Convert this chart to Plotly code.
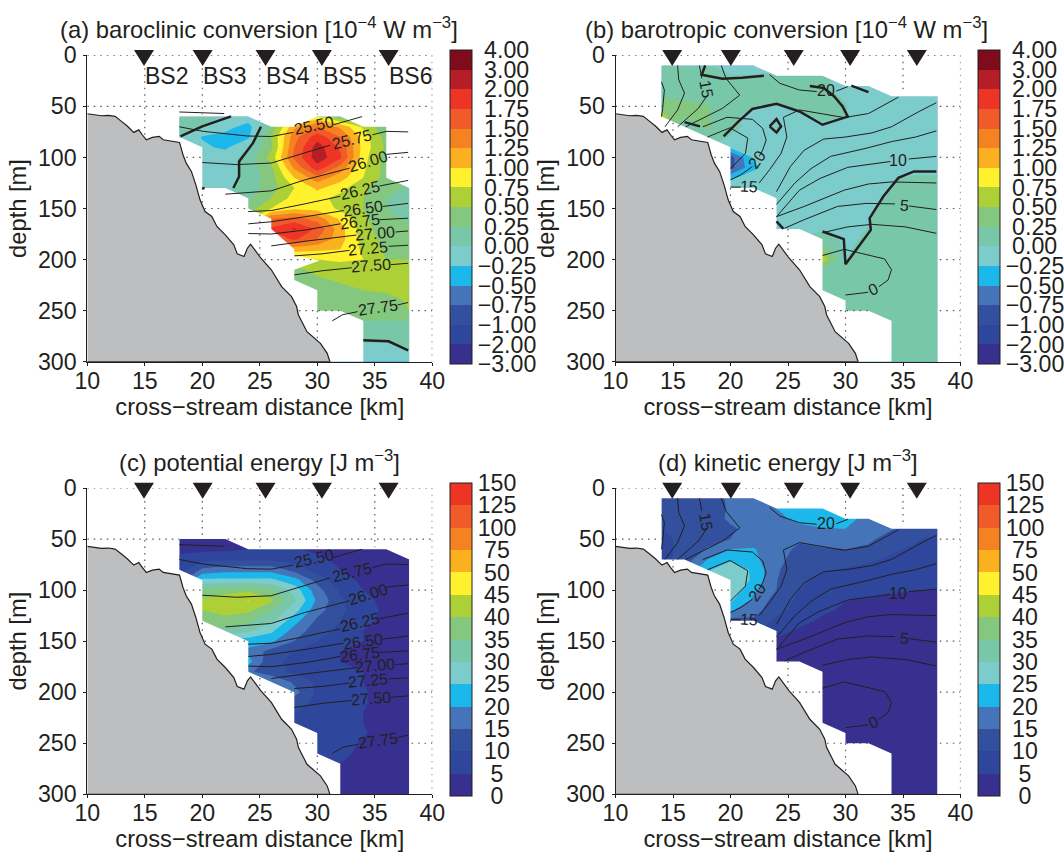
import numpy as np
import plotly.graph_objects as go

TXT = "#231f20"
FONT = "Liberation Sans, Arial, sans-serif"
NB = "\u00a0"

# ---------- colour levels
levels_conv = [-3, -2, -1, -.75, -.5, -.25, 0, .25, .5, .75, 1, 1.25, 1.5, 1.75, 2, 3, 4]
labels_conv = ["−3.00", "−2.00", "−1.00", "−0.75", "−0.50", "−0.25", NB+"0.00", NB+"0.25", NB+"0.50", NB+"0.75",
               NB+"1.00", NB+"1.25", NB+"1.50", NB+"1.75", NB+"2.00", NB+"3.00", NB+"4.00"]
colors_conv = ["#37308f", "#2e479c", "#33509f", "#4674b9", "#1cb8ec", "#7ccccb", "#78c7a8", "#84c77f",
               "#add036", "#fff12d", "#fbb01f", "#f58220", "#f15a29", "#ee3424", "#b51e24", "#7f0c1c"]
levels_en = [0, 5, 10, 15, 20, 25, 30, 35, 40, 45, 50, 75, 100, 125, 150]
labels_en = [NB+NB+"0", NB+NB+"5", NB+"10", NB+"15", NB+"20", NB+"25", NB+"30", NB+"35", NB+"40", NB+"45",
             NB+"50", NB+"75", "100", "125", "150"]
colors_en = ["#37308f", "#2e479c", "#33509f", "#4674b9", "#1cb8ec", "#7ccccb", "#78c7a8", "#84c77f",
             "#add036", "#fff12d", "#fbb01f", "#f58220", "#f15a29", "#ee3424"]

# ---------- grids
x_ac = [18, 20, 22, 24, 26, 28, 30, 32, 34, 36, 38]
x_bd = [14, 16, 18, 20, 22, 24, 26, 28, 30, 32, 34, 36, 38]
d_a = list(range(60, 301, 10))
d_c = list(range(50, 301, 10))
d_bd = list(range(10, 301, 10))

z_a = [
 [.1, .05, -.02, -.1, .1, .5, .8, .3, .3, .2, .2],
 [.05, 0, -.15, -.35, .3, 1.2, 1.5, 1.2, .7, .3, .3],
 [0, -.27, -.35, -.3, .5, 1.4, 1.9, 1.5, .9, .4, .35],
 [-.2, -.2, -.3, -.02, .45, 1.5, 2.5, 1.7, .9, .45, .3],
 [-.15, -.15, -.1, .08, .6, 1.55, 2.6, 1.8, .85, .4, .3],
 [-.15, -.15, -.1, .1, .45, 1.3, 1.9, 1.4, .8, .4, .3],
 [-.15, -.15, -.1, .08, .4, 1.0, 1.4, 1.1, .75, .4, .3],
 [-.1, -.1, -.05, .1, .4, .75, 1.05, .85, .55, .35, .2],
 [0, 0, 0, .2, .5, .85, .85, .65, .5, .25, .2],
 [.3, .3, .3, .35, .75, .95, .9, .7, .5, .25, .2],
 [.5, .5, .5, .6, 1.5, 1.6, 1.4, .95, .55, .3, .22],
 [.7, .7, .7, .8, 1.8, 2.1, 1.7, 1.1, .6, .35, .3],
 [.7, .7, .7, .8, 1.5, 1.8, 1.5, 1.1, .65, .4, .3],
 [.8, .8, .8, .9, 1.0, 1.1, 1.05, 1.0, .7, .45, .3],
 [.6, .6, .6, .6, .7, .7, .75, .8, .75, .5, .5],
 [.45, .45, .45, .45, .45, .45, .55, .6, .6, .55, .55],
 [.4, .4, .4, .4, .4, .4, .47, .52, .55, .55, .55],
 [.4, .4, .4, .4, .4, .4, .4, .45, .5, .52, .52],
 [.35, .35, .35, .35, .35, .35, .35, .4, .42, .45, .52],
 [.3, .3, .3, .3, .3, .3, .3, .3, .35, .4, .5],
 [.25, .25, .25, .25, .25, .25, .25, .25, .25, .25, .25],
 [.15, .15, .15, .15, .15, .15, .15, .15, .15, .15, .15],
 [0, 0, 0, 0, 0, 0, 0, 0, .01, .01, .05],
 [-.05, -.05, -.05, -.05, -.05, -.05, -.05, -.05, -.05, -.05, -.01],
 [-.1, -.1, -.1, -.1, -.1, -.1, -.1, -.1, -.1, -.1, -.1],
]

z_b = [
 [.27, .12, .03, -.1, -.1, -.1, -.1, -.1, -.1, -.1, -.1, -.1, -.1],
 [.2, .12, .08, .01, .01, .05, .05, .03, -.05, -.1, -.1, -.1, -.1],
 [.2, .15, .12, .1, .1, .1, .08, .01, -.02, -.1, -.1, -.1, -.1],
 [.22, .2, .15, .12, .1, .08, .08, .05, -.02, -.1, -.1, -.1, -.1],
 [.42, .32, .27, .12, .03, -.01, .01, .06, .01, -.1, -.1, -.1, -.1],
 [.58, .3, .28, .05, -.1, -.15, -.02, .02, 0, -.1, -.1, -.1, -.1],
 [.4, .02, .27, .1, -.1, .02, -.05, -.02, -.05, -.1, -.1, -.1, -.1],
 [.2, .1, .2, -.03, -.1, -.1, -.1, -.1, -.1, -.1, -.1, -.1, -.1],
 [.1, .05, 0, -.2, -.1, -.1, -.1, -.1, -.1, -.1, -.1, -.1, -.1],
 [-.3, -.4, -.6, -.85, -.22, -.1, -.1, -.1, -.1, -.1, -.1, -.1, -.1],
 [-.3, -.4, -.6, -.85, -.3, -.1, -.1, -.1, -.1, -.1, -.1, -.1, -.1],
 [-.1, -.2, -.3, -.3, -.12, -.1, -.1, -.1, -.1, -.1, -.02, .03, .03],
 [-.1, -.1, -.1, -.1, -.1, -.1, -.1, -.1, -.1, -.1, .005, .05, .05],
 [-.1, -.1, -.1, -.1, -.1, -.1, -.1, -.1, -.1, -.05, .03, .06, .06],
 [-.1, -.1, -.1, -.1, -.1, -.1, -.1, -.1, -.1, -.02, .05, .06, .06],
 [-.1, -.1, -.1, -.1, -.1, -.1, -.1, -.1, -.08, -.005, .06, .06, .06],
 [-.1, -.1, -.1, -.1, -.1, -.1, -.1, -.03, -.05, .005, .07, .07, .07],
 [.05, .05, .05, .05, .05, .05, .05, .08, -.04, .03, .08, .08, .08],
 [.35, .35, .35, .35, .35, .35, .35, .35, -.02, .05, .08, .08, .08],
 [.7, .7, .7, .7, .7, .7, .7, .7, -.005, .07, .08, .08, .08],
 [.15, .15, .15, .15, .15, .15, .15, .15, .05, .08, .08, .08, .08],
 [.1, .1, .1, .1, .1, .1, .1, .1, .1, .1, .1, .1, .1],
 [.1, .1, .1, .1, .1, .1, .1, .1, .1, .1, .1, .1, .1],
 [.1, .1, .1, .1, .1, .1, .1, .1, .1, .1, .1, .1, .1],
 [.1, .1, .1, .1, .1, .1, .1, .1, .1, .1, .1, .1, .1],
 [.1, .1, .1, .1, .1, .1, .1, .1, .1, .1, .1, .1, .1],
 [.1, .1, .1, .1, .1, .1, .1, .1, .1, .1, .1, .1, .1],
 [.1, .1, .1, .1, .1, .1, .1, .1, .1, .1, .1, .1, .1],
 [.1, .1, .1, .1, .1, .1, .1, .1, .1, .1, .1, .1, .1],
 [.1, .1, .1, .1, .1, .1, .1, .1, .1, .1, .1, .1, .1],
]

z_c = [
 [3, 3, 3, 3, 3, 3, 3, 3, 3, 3, 3],
 [4, 4, 4, 5, 6, 5.5, 4, 3, 3, 3, 3],
 [6, 8, 9, 9, 9, 8, 6, 4, 3, 3, 3],
 [7, 16, 18, 18, 18, 13, 8, 5, 3, 3, 3],
 [12, 26, 26, 26, 26, 22, 13, 7, 4, 3, 3],
 [20, 36, 38, 39, 36, 28, 17, 9, 5, 3, 3],
 [25, 41, 43, 45.2, 41, 31, 19, 11, 6, 4, 3],
 [25, 40, 42, 41, 35, 27, 17, 11, 7, 4, 3],
 [25, 38, 38, 36, 31, 22, 14, 10, 6, 4, 3],
 [25, 33, 34, 31, 26, 18, 12, 9, 5, 3, 3],
 [22, 22, 22, 22, 21, 15, 10, 8, 5, 3, 3],
 [19, 19, 19, 19, 13, 10, 8, 5, 4, 3, 3],
 [22, 22, 22, 22, 11, 9, 8, 5, 4.5, 3, 3],
 [16, 16, 16, 16, 12, 9, 8, 7, 5, 3, 3],
 [20, 20, 20, 20, 20, 14, 9, 8, 5, 3, 3],
 [17, 17, 17, 17, 17, 17, 9, 8, 5.5, 3, 3],
 [12, 12, 12, 12, 12, 12, 9, 8, 5.5, 3, 3],
 [10, 10, 10, 10, 10, 10, 9, 8, 5, 3, 3],
 [9, 9, 9, 9, 9, 9, 9, 8, 5, 3, 3],
 [9.5, 9.5, 9.5, 9.5, 9.5, 9.5, 9.5, 8.5, 5.5, 3, 3],
 [9, 9, 9, 9, 9, 9, 9, 8, 4, 3, 3],
 [8, 8, 8, 8, 8, 8, 8, 7, 3, 3, 3],
 [5, 5, 5, 5, 5, 5, 5, 5, 3, 3, 3],
 [3, 3, 3, 3, 3, 3, 3, 3, 3, 3, 3],
 [3, 3, 3, 3, 3, 3, 3, 3, 3, 3, 3],
 [3, 3, 3, 3, 3, 3, 3, 3, 3, 3, 3],
]

z_d = [
 [12, 12, 12, 16, 16, 16, 16, 16, 16, 16, 16, 16, 16],
 [12, 12, 13, 15.5, 17, 20, 22, 22, 20, 18, 16, 15, 14],
 [10, 12, 13.5, 15.5, 17, 19, 21, 21.5, 22, 18, 16, 15, 14],
 [10, 11, 13, 14.6, 16, 17, 19, 19.8, 20, 16, 15.3, 14, 13],
 [9, 11, 13, 15, 17, 16.5, 15.4, 16, 16, 16, 13, 11, 8],
 [9, 11, 15.5, 20, 20.5, 16, 14.5, 14.8, 15, 14, 11, 9, 8],
 [8, 12, 20, 24, 21.5, 16, 13.5, 13, 12, 11, 9, 8, 6],
 [12, 16, 24, 29, 24, 15.5, 12.5, 10.5, 9.5, 8.5, 7.5, 6.5, 5.5],
 [20, 25, 28, 30, 24, 15.2, 11, 9, 8, 7.2, 6.5, 5.8, 5.3],
 [25, 29, 29, 29, 21, 15, 10, 8, 6.8, 6, 5.3, 5.1, 5],
 [25, 26, 26, 26, 19, 13, 9, 7, 5.1, 4.7, 4.5, 4.2, 4],
 [20, 20.5, 20.5, 20.5, 17, 11.5, 8, 5.5, 4.5, 4, 3.5, 3.5, 3.5],
 [13, 13, 13, 13, 14, 9, 6, 4.5, 4, 3, 3, 3, 3],
 [11, 11, 11, 11, 11, 6, 4.5, 4, 3, 3, 3, 3, 3],
 [4.5, 4.5, 4.5, 4.5, 4.5, 4.5, 4, 3, 3, 3, 3, 3, 3],
 [3.5, 3.5, 3.5, 3.5, 3.5, 3.5, 3.5, 3, 3, 3, 3, 3, 3],
] + [[3] * 13 for _depth in range(14)]

# ---------- outline of the sampled area in each panel (km, m)
reg_a_x = [18, 24, 26, 28, 30, 32, 34, 36, 36, 38, 38, 34, 34, 32, 30, 30, 28, 28, 30.2, 28, 28, 26, 26, 24, 24, 22, 20, 20, 18]
reg_a_y = [60, 60, 70, 70, 60, 60, 70, 70, 120, 130, 300, 300, 260, 250, 250, 230, 220, 210, 201, 196, 190, 170, 160, 150, 140, 130, 130, 90, 80]
reg_b_x = [14, 22, 24, 28, 30, 32, 34, 38, 38, 34, 34, 32, 30, 30, 28, 28, 26, 24, 24, 22, 20, 20, 14]
reg_b_y = [10, 10, 20, 20, 30, 30, 40, 40, 300, 300, 260, 250, 250, 240, 230, 180, 170, 170, 140, 130, 130, 90, 60]
reg_c_x = [18, 22, 24, 36, 38, 38, 32, 32, 30, 30, 28, 28, 24, 24, 20, 20, 18]
reg_c_y = [50, 50, 60, 60, 70, 300, 300, 270, 260, 240, 230, 200, 180, 150, 130, 90, 80]
reg_d_x = [14, 22, 24, 28, 30, 32, 34, 38, 38, 34, 34, 32, 30, 30, 28, 28, 26, 24, 24, 22, 20, 20, 18, 16, 14]
reg_d_y = [10, 10, 20, 20, 30, 30, 40, 40, 300, 300, 260, 250, 250, 240, 230, 180, 170, 170, 140, 130, 130, 90, 80, 70, 70]

# ---------- sea floor
floor_x = [10, 10.5, 11.24, 11.83, 12.42, 12.86, 13.45, 14.04, 14.48, 14.78, 15.13, 15.66, 16.25, 16.6, 17.43, 18.02,
           18.32, 18.6, 19.05, 19.44, 19.8, 20.24, 20.83, 21.27, 22, 22.74, 23.04, 23.63, 23.92, 24.2, 25.1, 26, 26.9,
           27.76, 28.2, 28.35, 29.1, 30.27, 30.86, 31.1, 10]
floor_y = [57.2, 58.2, 59.2, 58.8, 59.8, 63.7, 69, 75.5, 73, 77.8, 82.7, 80.4, 79.4, 82.7, 84.3, 85.3,
           97.4, 105.6, 113.7, 126.8, 141.5, 153, 157.8, 167.6, 175.8, 185.6, 194.4, 197, 188.9, 185, 198.7, 210, 226.5,
           236.3, 246, 254, 270.6, 282, 291.8, 300, 300]

stations_x = [14.93, 20.03, 25.5, 30.4, 36.2]
stations_names = ["BS2", "BS3", "BS4", "BS5", "BS6"]

# ---------- isopycnals (panels a, c)
iso_lines = [
 ([18, 21.9], [55.5, 57]),
 ([18, 20.1, 23.9, 26, 27.9, None, 31.4, 33.9], [70, 74.5, 79, 79.5, 75.5, None, 68, 60]),
 ([20, 23, 26, 28.9, 31.1, None, 34.8, 36, 37.9], [105, 107, 105.5, 95.7, 88, None, 77.8, 74.5, 75]),
 ([22, 26, 28.9, 32.8, None, 36, 37.9], [136, 132.7, 122, 110.5, None, 97, 95]),
 ([24, 26, 28.9, 32, None, 35.4, 37.9], [153, 152, 145.5, 138, None, 128, 122.5]),
 ([24, 26, 29, 32.3, None, 35.7, 37.9], [165, 163, 158, 152, None, 148, 145]),
 ([24, 26, 29, 32, None, 35.4, 37.9], [174.5, 175, 171, 165, None, 161, 159.5]),
 ([26, 29, 33.4, None, 36.8, 37.9], [186.6, 182, 176, None, 173, 172]),
 ([28, 30.4, 32.8, None, 36.2, 37.9], [196.4, 194.4, 191, None, 187, 186]),
 ([28, 30.4, 33, None, 36.4, 37.9], [215, 211, 208, None, 205, 203.6]),
 ([31.3, 32.2, 33.5, None, 37, 37.9], [260, 254, 251, None, 244.4, 242]),
]
iso_text = ["25.50", "25.75", "26.00", "26.25", "26.50", "26.75", "27.00", "27.25", "27.50", "27.75"]
iso_tx = [29.7, 33, 34.4, 33.7, 34, 33.7, 35, 34.4, 34.7, 35.3]
iso_ty = [69, 82.7, 104, 132, 150, 163, 174, 189, 206, 247]
iso_ta = [-12, -14, -17, -13, -8, -7, -5, -5, -4, -8]

# ---------- velocity contours (panels b, d)
vel_lines = [
 ([14, 14.25, 14.1, 14], [26, 34, 52, 60]),
 ([15.4, 15.5, 16, 15.4, 14.3], [10, 24, 37, 53.5, 70]),
 ([17.3, 17.5, None, 17.9, 17.2, 15.4], [10, 22.5, None, 40.5, 52, 70]),
 ([19.2, 19.6, 20.8, 19.3, 16.1], [10, 22.5, 39, 52, 70]),
 ([23.4, 24.3, 26, 27.5, None, 29.2, 30.2], [19, 27.5, 34, 35.5, None, 35, 30.7]),
 ([17.6, 19.7, 21.9, 22.8, 23.1, 22.8, 22.5, None, 21.9, 20.9, 20], [70, 60.7, 62.7, 71.5, 83, 92.7, 99, None, 109, 117, 122]),
 ([18, 19.95, 21.5, 21.3, 20], [80, 71, 81, 96, 110.7]),
 ([34.6, 32, 29.9, 26, 24.6, 24.9, 24.4, 23.4, 22.5, None, 20.9, 20], [41, 57, 61, 53.5, 60.7, 80, 96, 112, 125, None, 129, 129]),
 ([37.9, 36.4, 34, 32.3, 30, 28.1, 26.4, 25.2, 24], [46.4, 55, 70, 76, 80, 82, 93, 109, 133.5]),
 ([37.9, 36.1, 34, 31.8, 28.7, 27, 25.6, 24], [74, 80, 84.5, 91, 99, 111, 125, 146]),
 ([37.9, 35.5, None, 33.9, 30.2, 27.8, 26, 24], [99, 101.5, None, 104, 109.7, 120.5, 132, 158]),
 ([37.9, 34, 32, 29.9, 26.4, 24], [125, 124, 126, 132, 148, 158]),
 ([24.7, 26.4, 29.3, 31.8, 34.3, None, 35.5, 37.9], [169.4, 161, 148, 145, 145.5, None, 147.5, 151]),
 ([28, 30.2, 32.3, 35.2, 37.9], [173.7, 168, 165.5, 168, 174.3]),
 ([28, 29.9, 33.4, 34, 33.7, 32.9, None, 31.97, 30], [196, 190, 199.4, 210, 220, 226.6, None, 232, 234.7]),
]
vel_text = ["15", "20", "20", "15", "10", "5", "0"]
vel_tx = [17.85, 28.3, 22.3, 21.6, 34.6, 35.1, 32.4]
vel_ty = [33, 34.8, 102, 128.5, 103, 147, 229.7]
vel_ta = [80, 0, -55, 3, 0, 5, -25]

# ---------- thick zero contours
thick_a = [
 ([18.1, 20, 22.5], [79.4, 69.6, 59.8]),
 ([25.1, 24.4, 23.2, 23.2, 22.7], [70, 86, 104, 118.6, 130]),
 ([34, 36.2, 37.9], [279, 280, 289]),
 ([20, 20.2], [130, 130.5]),
]
thick_b = [
 ([17.8, 17.5, 19.3, 21, 22.9], [10, 19, 23, 22, 20]),
 ([26.9, 28.1, 29, 29.75, 30.2, 28, 26, 24, 21.9, 20.7, 19.4], [30, 32, 40, 50, 60, 68, 55, 47.4, 52.6, 64.7, 79.4]),
 ([30.5, 32], [29.7, 36]),
 ([16, 17.35], [65.4, 69.6]),
 ([23.4, 24, 24.4, 24, 23.4], [69.6, 62.4, 69.6, 75.5, 69.6]),
 ([24, 24.6], [162.7, 170]),
 ([28, 29.85, 30, 32.2, 32.1, 33.1, 33.3, 34.6, 35.95, 37.9], [172.5, 180, 204.6, 171, 159.5, 141.5, 138, 120, 113.7, 113.7]),
]

# ---------- axes placement in pixels
W, H = 1064, 853
panels = [
 dict(n="", px=(87.3, 432.3), py=(55.3, 361.7), cb=(449.6, 50, 364), x=x_ac, d=d_a, z=z_a, lev=levels_conv, lab=labels_conv, col=colors_conv,
      rx=reg_a_x, ry=reg_a_y, title="(a) baroclinic conversion [10<sup>−4</sup> W m<sup>−3</sup>]", tc=(259.3, 28), kind="iso", thick=thick_a, names=True),
 dict(n="2", px=(615.5, 960.5), py=(55.3, 361.7), cb=(977.5, 50, 364), x=x_bd, d=d_bd, z=z_b, lev=levels_conv, lab=labels_conv, col=colors_conv,
      rx=reg_b_x, ry=reg_b_y, title="(b) barotropic conversion [10<sup>−4</sup> W m<sup>−3</sup>]", tc=(786.5, 28), kind="vel", thick=thick_b, names=False),
 dict(n="3", px=(87.3, 432.3), py=(488, 794.3), cb=(449.6, 483, 796), x=x_ac, d=d_c, z=z_c, lev=levels_en, lab=labels_en, col=colors_en,
      rx=reg_c_x, ry=reg_c_y, title="(c) potential energy [J m<sup>−3</sup>]", tc=(259.6, 461), kind="iso", thick=[], names=False),
 dict(n="4", px=(615.5, 960.5), py=(488, 794.3), cb=(977.5, 483, 796), x=x_bd, d=d_bd, z=z_d, lev=levels_en, lab=labels_en, col=colors_en,
      rx=reg_d_x, ry=reg_d_y, title="(d) kinetic energy [J m<sup>−3</sup>]", tc=(787.9, 461), kind="vel", thick=[], names=False),
]


def inside(px, py, xs, ys):
    c = False
    j = len(xs) - 1
    for i in range(len(xs)):
        if (ys[i] > py) != (ys[j] > py):
            if px < (xs[j] - xs[i]) * (py - ys[i]) / (ys[j] - ys[i]) + xs[i]:
                c = not c
        j = i
    return c


def grid_path(rx, ry):
    gx, gy = [], []

    def add(pts):
        for a, b in pts:
            if inside(a, b, rx, ry) or inside(a, b, floor_x, floor_y):
                gx.append(None); gy.append(None)
            else:
                gx.append(a); gy.append(b)
        gx.append(None); gy.append(None)
    for v in range(15, 41, 5):
        add([(v, t) for t in np.arange(0, 300.01, 2.0)])
    for v in range(0, 251, 50):
        add([(t, v) for t in np.arange(10, 40.01, 0.2)])
    return gx, gy


fig = go.Figure()
annotations = []
shapes = []
for p in panels:
    xa, ya = "x" + p["n"], "y" + p["n"]
    lev = np.array(p["lev"], float)
    nb = len(lev) - 1
    zi = np.interp(np.array(p["z"], float), lev, np.arange(nb + 1))
    cs = []
    for i, c in enumerate(p["col"]):
        cs += [[i / nb, c], [(i + 1) / nb, c]]
    cb = p["cb"]
    fig.add_trace(go.Contour(
        x=p["x"], y=p["d"], z=zi, xaxis=xa, yaxis=ya, zmin=0, zmax=nb, colorscale=cs,
        contours=dict(start=0, end=nb, size=1, coloring="fill", showlines=False),
        line=dict(width=0, smoothing=0), hoverinfo="skip",
        colorbar=dict(x=cb[0] / W, xanchor="left", xpad=0, ypad=0, thickness=21.5, thicknessmode="pixels",
                      y=1 - cb[2] / H, yanchor="bottom", len=(cb[2] - cb[1]) / H, lenmode="fraction",
                      tickmode="array", tickvals=list(range(nb + 1)), ticktext=p["lab"], ticks="",
                      tickfont=dict(family=FONT, size=23.2, color=TXT), outlinecolor=TXT, outlinewidth=1),
    ))
    # white everywhere outside the sampled area
    mx = [10, 40, 40, 10, 10] + p["rx"][::-1] + [p["rx"][-1], 10]
    my = [0, 0, 300, 300, 0] + p["ry"][::-1] + [p["ry"][-1], 0]
    fig.add_trace(go.Scatter(x=mx, y=my, xaxis=xa, yaxis=ya, mode="lines", line=dict(width=0), fill="toself",
                             fillcolor="white", hoverinfo="skip", showlegend=False))
    gx, gy = grid_path(p["rx"], p["ry"])
    fig.add_trace(go.Scatter(x=gx, y=gy, xaxis=xa, yaxis=ya, mode="lines", cliponaxis=False, connectgaps=False,
                             line=dict(color="#555555", width=1.2, dash="1.5px,5px"), hoverinfo="skip", showlegend=False))
    fig.add_trace(go.Scatter(x=floor_x, y=floor_y, xaxis=xa, yaxis=ya, mode="lines", fill="toself", fillcolor="#bcbec0",
                             line=dict(color=TXT, width=1.2), hoverinfo="skip", showlegend=False))
    lines = iso_lines if p["kind"] == "iso" else vel_lines
    for lx, ly in lines:
        fig.add_trace(go.Scatter(x=lx, y=ly, xaxis=xa, yaxis=ya, mode="lines", line=dict(color=TXT, width=1),
                                 hoverinfo="skip", showlegend=False))
    for lx, ly in p["thick"]:
        fig.add_trace(go.Scatter(x=lx, y=ly, xaxis=xa, yaxis=ya, mode="lines", line=dict(color=TXT, width=2.5),
                                 hoverinfo="skip", showlegend=False))
    tt, tx, ty, ta = (iso_text, iso_tx, iso_ty, iso_ta) if p["kind"] == "iso" else (vel_text, vel_tx, vel_ty, vel_ta)
    for t, a, b, g in zip(tt, tx, ty, ta):
        annotations.append(dict(x=a, y=b, xref=xa, yref=ya, text=t, textangle=g, showarrow=False,
                                font=dict(family=FONT, size=16, color=TXT)))
    # station triangles straddle the top axis, so they live in paper space
    for s in stations_x:
        cx = (p["px"][0] + (s - 10) / 30 * (p["px"][1] - p["px"][0])) / W
        top = 1 - (p["py"][0] - 5.3) / H
        tip = 1 - (p["py"][0] + 10.7) / H
        hw = 10 / W
        shapes.append(dict(type="path", xref="paper", yref="paper", layer="above",
                           path=f"M {cx - hw} {top} L {cx + hw} {top} L {cx} {tip} Z", fillcolor=TXT, line=dict(width=0)))
    if p["names"]:
        for s, nm in zip(stations_x, stations_names):
            annotations.append(dict(x=s + 0.07, y=20, xref=xa, yref=ya, text=nm, showarrow=False, xanchor="left",
                                    xshift=-2, font=dict(family=FONT, size=23, color=TXT)))
    annotations.append(dict(x=p["tc"][0] / W, y=1 - p["tc"][1] / H, xref="paper", yref="paper", xanchor="center", yanchor="middle",
                            text=p["title"], showarrow=False, font=dict(family=FONT, size=23.8, color=TXT)))

layout = dict(width=W, height=H, margin=dict(l=0, r=0, t=0, b=0, autoexpand=False), paper_bgcolor="white", plot_bgcolor="white",
              showlegend=False, annotations=annotations, shapes=shapes, font=dict(family=FONT, color=TXT))
for p in panels:
    ax = dict(domain=[p["px"][0] / W, p["px"][1] / W], range=[10, 40], tickvals=list(range(10, 41, 5)), showgrid=False, zeroline=False,
              showline=True, linecolor=TXT, linewidth=1, ticks="outside", ticklen=3, tickcolor=TXT,
              tickfont=dict(family=FONT, size=23.2, color=TXT), ticklabelstandoff=-5,
              title=dict(text="cross−stream distance [km]", font=dict(family=FONT, size=23.7, color=TXT), standoff=3),
              anchor="y" + p["n"])
    ay = dict(domain=[1 - p["py"][1] / H, 1 - p["py"][0] / H], range=[300, 0], tickvals=list(range(0, 301, 50)), showgrid=False, zeroline=False,
              showline=True, linecolor=TXT, linewidth=1, ticks="outside", ticklen=3, tickcolor=TXT,
              tickfont=dict(family=FONT, size=23.2, color=TXT), ticklabelstandoff=2,
              title=dict(text="depth [m]", font=dict(family=FONT, size=23.7, color=TXT), standoff=4),
              anchor="x" + p["n"])
    layout["xaxis" + p["n"]] = ax
    layout["yaxis" + p["n"]] = ay
fig.update_layout(**layout)
fig.write_html("out.html", post_script="document.body.style.margin='0';", config={"displayModeBar": False})
